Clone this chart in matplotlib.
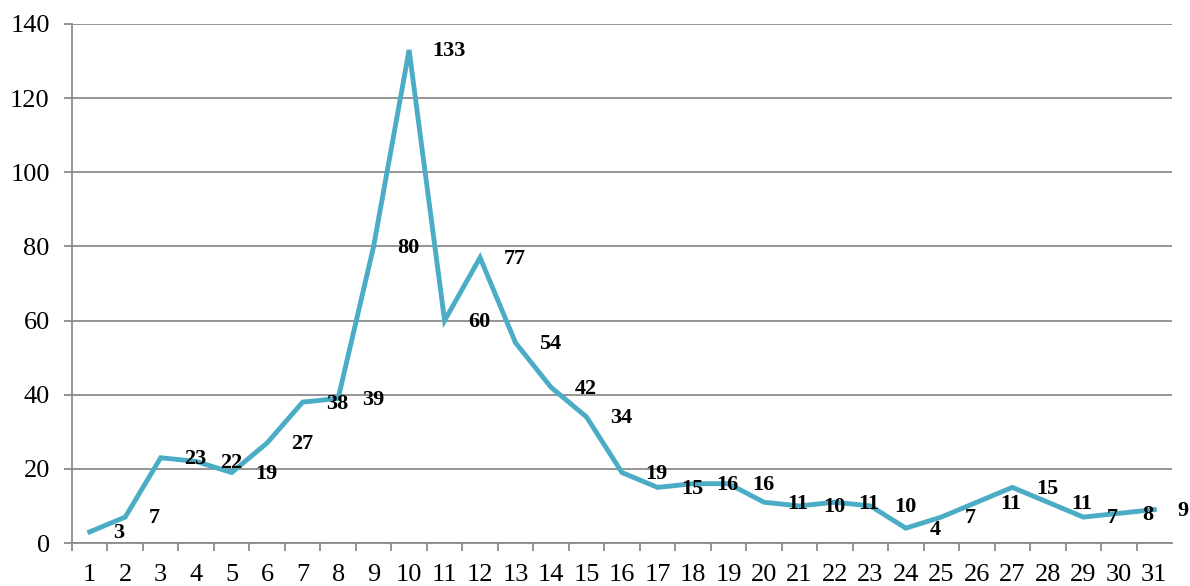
import matplotlib
matplotlib.use("Agg")
import matplotlib.pyplot as plt
from matplotlib.ticker import FixedLocator

days = list(range(1, 32))
values = [3, 7, 23, 22, 19, 27, 38, 39, 80, 133, 60, 77, 54, 42, 34, 19, 15, 16, 16,
          11, 10, 11, 10, 4, 7, 11, 15, 11, 7, 8, 9]
yticks = [0, 20, 40, 60, 80, 100, 120, 140]

plt.rcParams['font.family'] = ['Liberation Serif', 'DejaVu Serif']

fig = plt.figure(figsize=(11.9, 5.86), dpi=100)
ax = fig.add_axes([72/1190, 1-543/586, 1100/1190, 519/586])

ax.plot(days, values, color='#4BACC6', lw=3.5, solid_joinstyle='miter', zorder=3)
for d, v in zip(days, values):
    ax.annotate(str(v), (d, v), xytext=(17, -1), textcoords='offset points',
                ha='left', va='center', fontsize=16, fontweight='bold',
                color='black', annotation_clip=False, zorder=4)

ax.set_xlim(0.5, 31.5)
ax.set_ylim(0, 140)
ax.set_yticks(yticks)
ax.set_xticks(days)
ax.xaxis.set_minor_locator(FixedLocator([d + 0.5 for d in range(0, 31)]))
ax.grid(axis='y', color='#8c8c8c', lw=1.3, zorder=1)
for s in ['top', 'right']:
    ax.spines[s].set_visible(False)
for s in ['left', 'bottom']:
    ax.spines[s].set_color('#8c8c8c')
    ax.spines[s].set_linewidth(1.3)
ax.tick_params(axis='y', length=6, width=1.3, color='#8c8c8c', labelsize=19, pad=10)
ax.tick_params(axis='x', which='major', length=0, labelsize=19, pad=15)
ax.tick_params(axis='x', which='minor', length=6, width=1.3, color='#8c8c8c')

fig.savefig('out.png', dpi=100)
